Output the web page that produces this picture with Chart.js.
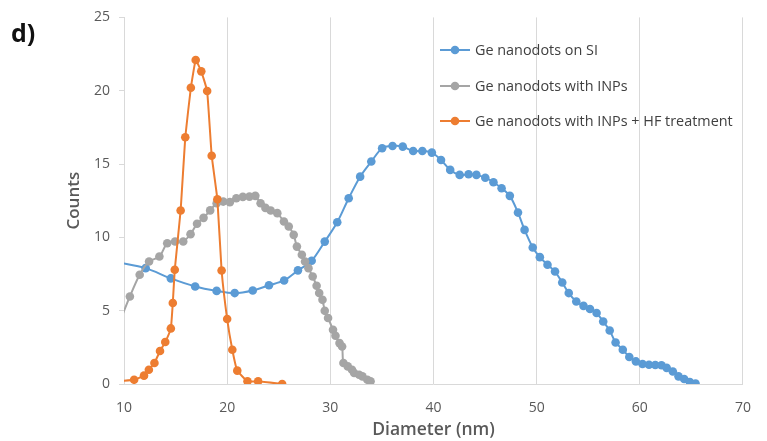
<!DOCTYPE html>
<html>
<head>
<meta charset="utf-8">
<script src="https://cdn.jsdelivr.net/npm/chart.js@4"></script>
<style>
  body { margin: 0; background: #fff; }
  #wrap { position: relative; width: 767px; height: 441px; }
  #tag { position: absolute; left: 11px; top: 15px; font: bold 25px "Open Sans", sans-serif; color: #111; }
</style>
</head>
<body>
<div id="wrap">
  <canvas id="chart" width="767" height="441"></canvas>
  <div id="tag">d)</div>
</div>
<script>
const xTicks = [10, 20, 30, 40, 50, 60, 70];
const yTicks = [0, 5, 10, 15, 20, 25];

const seriesNames = [
  "Ge nanodots on SI",
  "Ge nanodots with INPs",
  "Ge nanodots with INPs + HF treatment",
];

const blueX = [9.4, 12.1, 14.54, 16.9, 18.98, 20.73, 22.48, 24.05, 25.52, 26.86, 28.19, 29.46, 30.67, 31.78, 32.89, 33.97, 35.02, 36.03, 37.02, 38.03, 38.92, 39.84, 40.73, 41.62, 42.54, 43.4, 44.16, 45.02, 45.81, 46.6, 47.4, 48.19, 48.83, 49.62, 50.31, 51.05, 51.78, 52.48, 53.11, 53.84, 54.54, 55.17, 55.81, 56.45, 57.08, 57.65, 58.35, 58.98, 59.62, 60.26, 60.89, 61.5, 62.1, 62.6, 63.2, 63.75, 64.3, 64.85, 65.4];
const blueY = [8.3, 7.9, 7.2, 6.65, 6.35, 6.2, 6.38, 6.73, 7.06, 7.75, 8.4, 9.71, 11.03, 12.67, 14.14, 15.17, 16.08, 16.23, 16.19, 15.89, 15.89, 15.78, 15.28, 14.6, 14.26, 14.3, 14.26, 14.07, 13.76, 13.35, 12.83, 11.69, 10.51, 9.31, 8.65, 8.13, 7.67, 6.92, 6.2, 5.63, 5.33, 5.11, 4.84, 4.26, 3.65, 2.83, 2.34, 1.84, 1.54, 1.36, 1.31, 1.3, 1.28, 1.1, 0.85, 0.52, 0.34, 0.14, 0.03];

const grayX = [9.4, 10.57, 11.52, 12.43, 13.43, 14.19, 14.95, 15.74, 16.45, 17.08, 17.71, 18.35, 18.98, 19.62, 20.26, 20.89, 21.52, 22.16, 22.73, 23.24, 23.71, 24.22, 24.86, 25.5, 25.97, 26.45, 26.76, 27.24, 27.55, 27.88, 28.29, 28.67, 28.92, 29.24, 29.46, 29.78, 30.26, 30.5, 30.89, 31.14, 31.27, 31.69, 32.1, 32.31, 32.79, 33.11, 33.59, 33.9];
const grayY = [3.9, 5.97, 7.45, 8.35, 8.69, 9.6, 9.72, 9.72, 10.22, 10.93, 11.33, 11.84, 12.33, 12.44, 12.4, 12.67, 12.76, 12.78, 12.83, 12.33, 12.01, 11.83, 11.65, 11.08, 10.74, 10.17, 9.37, 8.81, 8.35, 7.9, 7.33, 6.7, 6.2, 5.74, 4.99, 4.5, 3.7, 3.29, 2.79, 2.56, 1.43, 1.2, 0.97, 0.75, 0.63, 0.52, 0.29, 0.18];

const orangeX = [9.6, 10.98, 11.94, 12.41, 12.95, 13.49, 14.0, 14.54, 14.73, 14.92, 15.49, 15.94, 16.48, 16.95, 17.49, 18.06, 18.5, 19.05, 19.46, 20.0, 20.5, 20.98, 21.97, 23.0, 25.33];
const orangeY = [0.2, 0.29, 0.57, 0.97, 1.43, 2.25, 2.86, 3.79, 5.52, 7.79, 11.83, 16.83, 20.2, 22.09, 21.32, 19.98, 15.57, 12.6, 7.74, 4.43, 2.34, 0.91, 0.18, 0.18, 0];

const colors = ["#5b9bd5", "#a5a5a5", "#ed7d31"];
const font = '"Open Sans", sans-serif';

function pairs(xs, ys) {
  return xs.map((x, i) => ({ x: x, y: ys[i] }));
}

function series(i, xs, ys, tension) {
  return {
    label: seriesNames[i],
    data: pairs(xs, ys),
    borderColor: colors[i],
    backgroundColor: colors[i],
    borderWidth: 2,
    pointRadius: 4.3,
    pointBorderWidth: 0,
    tension: tension,
    order: 3 - i,
  };
}

// legend sits inside the plot, top right, like the Excel one
const insideLegend = {
  id: "insideLegend",
  afterDraw(chart) {
    const ctx = chart.ctx;
    const rows = [50, 86, 121];
    ctx.save();
    ctx.font = "14.4px " + font;
    ctx.textBaseline = "middle";
    chart.data.datasets.forEach((ds, i) => {
      const y = rows[i];
      ctx.strokeStyle = ds.borderColor;
      ctx.lineWidth = 2;
      ctx.beginPath();
      ctx.moveTo(440, y);
      ctx.lineTo(470, y);
      ctx.stroke();
      ctx.fillStyle = ds.borderColor;
      ctx.beginPath();
      ctx.arc(455, y, 4.3, 0, Math.PI * 2);
      ctx.fill();
      ctx.fillStyle = "#404040";
      ctx.fillText(ds.label, 475, y + 1);
    });
    ctx.restore();
  },
};

new Chart(document.getElementById("chart"), {
  type: "line",
  data: {
    datasets: [
      series(0, blueX, blueY, 0.3),
      series(1, grayX, grayY, 0.3),
      series(2, orangeX, orangeY, 0.1),
    ],
  },
  options: {
    responsive: false,
    animation: false,
    devicePixelRatio: 1,
    layout: { padding: { left: 0, top: 17, right: 13, bottom: 0 } },
    plugins: { legend: { display: false }, tooltip: { enabled: false } },
    scales: {
      x: {
        type: "linear",
        min: 10,
        max: 70,
        afterBuildTicks: (s) => { s.ticks = xTicks.map((v) => ({ value: v })); },
        afterFit: (s) => { s.height = 57; },
        grid: { color: "#d9d9d9", drawTicks: false },
        border: { color: "#d9d9d9" },
        ticks: { color: "#595959", padding: 16, font: { family: font, size: 14 } },
        title: {
          display: true,
          text: "Diameter (nm)",
          color: "#595959",
          font: { family: font, size: 17.5, weight: "600" },
          padding: { top: 2, bottom: 0 },
        },
      },
      y: {
        min: 0,
        max: 25,
        afterBuildTicks: (s) => { s.ticks = yTicks.map((v) => ({ value: v })); },
        afterFit: (s) => { s.width = 124; },
        grid: { drawOnChartArea: false, color: "#d9d9d9", tickLength: 5 },
        border: { color: "#d9d9d9" },
        ticks: { color: "#595959", padding: 9, font: { family: font, size: 14 } },
        title: {
          display: true,
          text: "Counts",
          color: "#595959",
          font: { family: font, size: 17, weight: "600" },
          padding: { top: 64, bottom: 0 },
        },
      },
    },
  },
  plugins: [insideLegend],
});
</script>
</body>
</html>
